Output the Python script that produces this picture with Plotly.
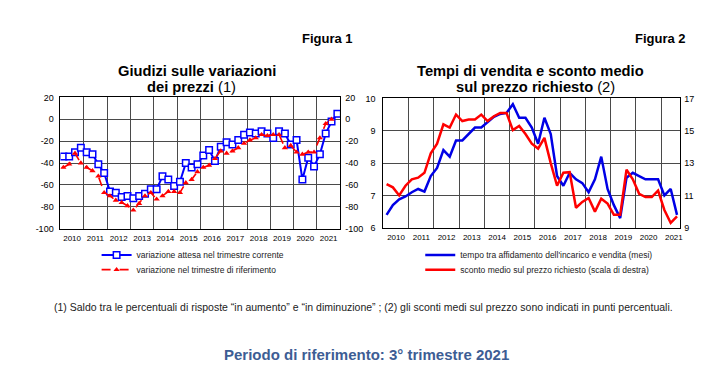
import plotly.graph_objects as go

W, H = 726, 369

# ---------------- data ----------------
years = list(range(2010, 2022))
quarters_fig1 = [f"{y}-T{q}" for y in years for q in range(1, 5)]  # 2010-T1 .. 2021-T4

# Figura 1: saldo giudizi (punti percentuali)
var_attesa = [-34, -34, -30, -26, -30, -32, -41, -49,
              -66, -67, -71, -70, -72, -70, -68, -64,
              -64, -52, -55, -61, -57, -40, -44, -41,
              -33, -28, -38, -25, -21, -23, -19, -14,
              -12, -13, -11, -13, -17, -11, -13, -23,
              -19, -55, -35, -43, -32, -13, -2, 5]
var_riferimento = [-44, -41, -31, -40, -44, -47, -52, -67,
                   -70, -74, -76, -79, -83, -77, -70, -67,
                   -73, -70, -66, -66, -67, -58, -55, -48,
                   -44, -42, -36, -29, -31, -29, -26, -22,
                   -19, -17, -14, -15, -14, -14, -26, -24,
                   -30, -32, -30, -30, -17, -4, 0]
ticks_fig1 = [-100, -80, -60, -40, -20, 0, 20]

# Figura 2
quarters_fig2 = quarters_fig1[:47]  # 2010-T1 .. 2021-T3
tempo_mesi = [6.4, 6.7, 6.88, 6.97, 7.1, 7.2, 7.12, 7.6,
              7.85, 8.4, 8.2, 8.7, 8.7, 8.9, 9.1, 9.1,
              9.28, 9.43, 9.52, 9.55, 9.82, 9.4, 9.4, 9.1,
              8.6, 9.4, 8.9, 7.6, 7.3, 7.7, 7.5, 7.38,
              7.1, 7.5, 8.2, 7.2, 6.7, 6.3, 7.55, 7.7,
              7.6, 7.5, 7.5, 7.5, 7.0, 7.2, 6.4]
sconto_medio = [11.7, 11.5, 11.0, 11.6, 12.0, 12.1, 12.4, 13.6,
                14.2, 15.4, 15.2, 16.0, 15.6, 15.7, 15.7, 16.0,
                15.6, 15.9, 16.1, 16.1, 15.04, 15.3, 14.8, 14.2,
                13.9, 14.56, 13.0, 11.6, 12.4, 12.44, 10.24, 10.6,
                10.84, 10.0, 10.8, 10.5, 9.8, 9.8, 12.6, 12.0,
                11.1, 10.9, 10.9, 11.3, 10.1, 9.3, 9.7]
ticks_left_fig2 = [6, 7, 8, 9, 10]
ticks_right_fig2 = [9, 11, 13, 15, 17]


def qpos(label):
    y, q = label.split("-T")
    return int(y) + (int(q) - 0.5) / 4


x1 = [qpos(q) for q in quarters_fig1]
x2 = [qpos(q) for q in quarters_fig2]

FONT = "Arial, Liberation Sans, sans-serif"
GRID = "#4a4a4a"
BLUE = "#0000ff"
RED = "#ff0000"

fig = go.Figure()

fig.add_trace(go.Scatter(
    x=x1, y=var_attesa, name="variazione attesa nel trimestre corrente",
    mode="lines+markers", xaxis="x", yaxis="y",
    line=dict(color=BLUE, width=2),
    marker=dict(symbol="square", size=6.5, color="white", line=dict(color=BLUE, width=1.5)),
    legend="legend"))
fig.add_trace(go.Scatter(
    x=x1[:len(var_riferimento)], y=var_riferimento, name="variazione nel trimestre di riferimento",
    mode="lines+markers", xaxis="x", yaxis="y2",
    line=dict(color=RED, width=1.6, dash="dash"),
    marker=dict(symbol="triangle-up", size=5.5, color=RED),
    legend="legend2"))

fig.add_trace(go.Scatter(
    x=x2, y=tempo_mesi, name="tempo tra affidamento dell'incarico e vendita (mesi)",
    mode="lines", xaxis="x2", yaxis="y3",
    line=dict(color="#0000e6", width=2.5), legend="legend3"))
fig.add_trace(go.Scatter(
    x=x2, y=sconto_medio, name="sconto medio sul prezzo richiesto (scala di destra)",
    mode="lines", xaxis="x2", yaxis="y4",
    line=dict(color=RED, width=2.5), legend="legend4"))

ytickfont = dict(family=FONT, size=9, color="black")
xtickfont = dict(family=FONT, size=8, color="black")

d1x = [60.7 / W, 341.7 / W]
d1y = [1 - 230 / H, 1 - 95 / H]
d2x = [385 / W, 683 / W]
d2y = [1 - 229 / H, 1 - 96 / H]

common_x = dict(showgrid=False, ticks="", zeroline=False, showline=True, mirror=True,
                linecolor="black", linewidth=1, tickfont=xtickfont, ticklabelstandoff=2)


def leg(x, yc):
    return dict(x=x / W, y=1 - yc / H, xanchor="left", yanchor="middle",
                font=dict(family=FONT, size=8.5, color="#222"), bgcolor="rgba(0,0,0,0)",
                itemwidth=30, tracegroupgap=0)


fig.update_layout(
    width=W, height=H, margin=dict(l=0, r=0, t=0, b=0),
    paper_bgcolor="white", plot_bgcolor="white",
    font=dict(family=FONT, color="black"),
    xaxis=dict(domain=d1x, anchor="y", range=[2010, 2022], tickmode="array",
               tickvals=[y + 0.5 for y in years], ticktext=[str(y) for y in years],
               minor=dict(tickmode="array", tickvals=list(range(2010, 2023)),
                          showgrid=True, gridcolor=GRID, gridwidth=1, ticks=""),
               **common_x),
    yaxis=dict(domain=d1y, anchor="x", range=[-100, 20], tickmode="array",
               tickvals=ticks_fig1, ticktext=[str(v) for v in ticks_fig1],
               showgrid=True, gridcolor=GRID, gridwidth=1, zeroline=False, ticks="",
               showline=True, linecolor="black", linewidth=1, mirror=True,
               tickfont=ytickfont, ticklabelstandoff=4),
    yaxis2=dict(overlaying="y", side="right", anchor="x", range=[-100, 20], tickmode="array",
                tickvals=ticks_fig1, ticktext=[str(v) for v in ticks_fig1],
                showgrid=False, zeroline=False, ticks="", tickfont=ytickfont, ticklabelstandoff=4),
    xaxis2=dict(domain=d2x, anchor="y3", range=[2010, 2021.75], tickmode="array",
                tickvals=[y + 0.5 for y in years], ticktext=[str(y) for y in years],
                minor=dict(tickmode="array", tickvals=list(range(2010, 2022)),
                           showgrid=True, gridcolor=GRID, gridwidth=1, ticks=""),
                **common_x),
    yaxis3=dict(domain=d2y, anchor="x2", range=[6, 10], tickmode="array",
                tickvals=ticks_left_fig2, ticktext=[str(v) for v in ticks_left_fig2],
                showgrid=True, gridcolor=GRID, gridwidth=1, zeroline=False, ticks="",
                showline=True, linecolor="black", linewidth=1, mirror=True,
                tickfont=ytickfont, ticklabelstandoff=5),
    yaxis4=dict(overlaying="y3", side="right", anchor="x2", range=[9, 17],
                tickmode="array", tickvals=ticks_right_fig2,
                ticktext=[str(v) for v in ticks_right_fig2],
                showgrid=False, zeroline=False, ticks="", tickfont=ytickfont, ticklabelstandoff=3),
    legend=leg(97, 257),
    legend2=leg(97, 272),
    legend3=leg(422, 257),
    legend4=leg(422, 272),
    showlegend=True,
)

ann = [
    dict(text="<b>Figura 1</b>", x=356 / W, y=1 - 34 / H, xanchor="right", yanchor="middle",
         font=dict(size=13)),
    dict(text="<b>Figura 2</b>", x=691 / W, y=1 - 34 / H, xanchor="right", yanchor="middle",
         font=dict(size=13)),
    dict(text="<b>Giudizi sulle variazioni</b>", x=197.5 / W, y=1 - 68 / H,
         xanchor="center", yanchor="middle", font=dict(size=14.7)),
    dict(text="<b>dei prezzi</b> (1)", x=192 / W, y=1 - 84 / H,
         xanchor="center", yanchor="middle", font=dict(size=14.7)),
    dict(text="<b>Tempi di vendita e sconto medio</b>", x=532.5 / W, y=1 - 68 / H,
         xanchor="center", yanchor="middle", font=dict(size=14.7)),
    dict(text="<b>sul prezzo richiesto</b> (2)", x=538 / W, y=1 - 84 / H,
         xanchor="center", yanchor="middle", font=dict(size=14.7)),
    dict(text="(1) Saldo tra le percentuali di risposte “in aumento” e “in diminuzione” ; "
              "(2) gli sconti medi sul prezzo sono indicati in punti percentuali.",
         x=365 / W, y=1 - 310 / H, xanchor="center", yanchor="middle",
         font=dict(size=10.5, color="#222")),
    dict(text="<b>Periodo di riferimento: 3° trimestre 2021</b>", x=368 / W, y=1 - 359 / H,
         xanchor="center", yanchor="middle", font=dict(size=15, color="#3d5d94")),
]
for a in ann:
    a.update(xref="paper", yref="paper", showarrow=False)
    a["font"].setdefault("family", FONT)
    a["font"].setdefault("color", "black")
fig.update_layout(annotations=ann)

fig.write_html("out.html", config={"displayModeBar": False},
               post_script="document.body.style.margin='0';")
